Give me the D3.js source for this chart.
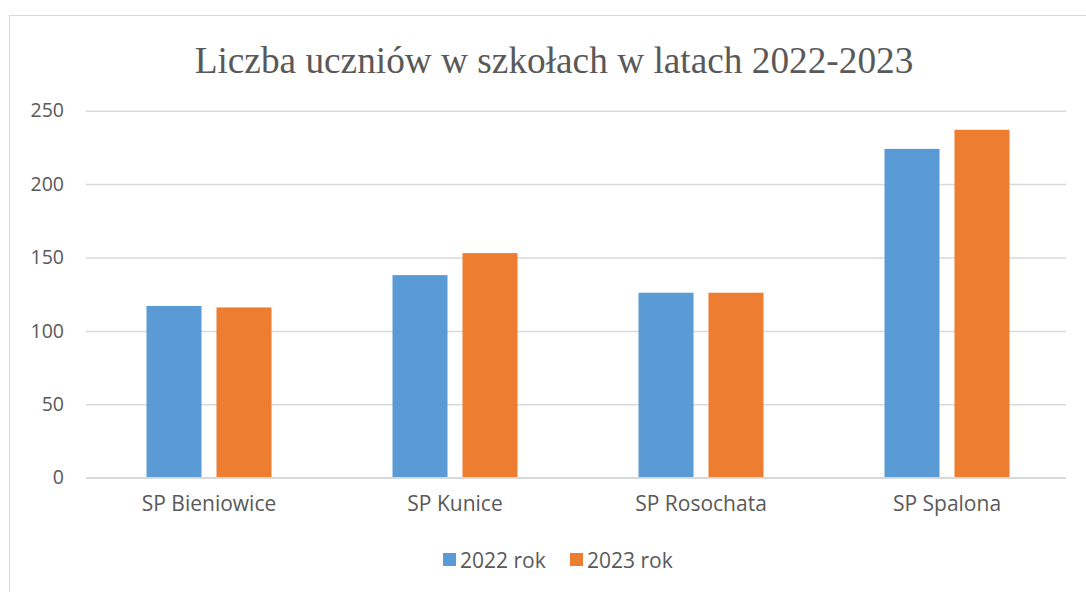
<!DOCTYPE html>
<html><head><meta charset="utf-8">
<script src="https://cdn.jsdelivr.net/npm/d3@7"></script>
<style>body{margin:0;background:#fff}svg{display:block}</style>
</head><body>
<script>
const categories = ["SP Bieniowice", "SP Kunice", "SP Rosochata", "SP Spalona"];
const seriesNames = ["2022 rok", "2023 rok"];
const values2022 = [117, 138, 126, 224];
const values2023 = [116, 153, 126, 237];
const yTicks = [0, 50, 100, 150, 200, 250];
const colors = ["#5b9bd5", "#ed7d31"];
const title = "Liczba uczniów w szkołach w latach 2022-2023";

(function () {
const W = 1086, H = 592;
const FONT = "Open Sans, Liberation Sans, sans-serif";
const svg = d3.select("body").append("svg").attr("width", W).attr("height", H);

svg.append("rect").attr("x", 9.5).attr("y", 15.5).attr("width", W + 10).attr("height", H + 10)
  .attr("fill", "#fff").attr("stroke", "#d9d9d9").attr("stroke-width", 1);

svg.append("text").attr("x", 554).attr("y", 73).attr("text-anchor", "middle")
  .attr("font-family", "Liberation Serif, Times New Roman, serif").attr("font-size", 37.3)
  .attr("fill", "#595959").text(title);

const pl = 86, pr = 1070, gridR = 1066, pt = 110.7, pb = 477.7;
const y = d3.scaleLinear().domain([0, 250]).range([pb, pt]);
const x0 = d3.scaleBand().domain(categories).range([pl, pr]);
const groupW = 125;
const x1 = d3.scaleBand().domain(seriesNames)
  .range([x0.bandwidth() / 2 - groupW / 2, x0.bandwidth() / 2 + groupW / 2])
  .paddingInner(0.214).paddingOuter(0);

const yAxis = d3.axisLeft(y).tickValues(yTicks).tickSize(-(gridR - pl)).tickPadding(22);
const ga = svg.append("g").attr("transform", `translate(${pl},0)`).call(yAxis);
ga.select(".domain").remove();
ga.selectAll(".tick line").attr("stroke", "#d9d9d9").attr("stroke-width", 1.5);
ga.selectAll(".tick text").attr("font-family", FONT)
  .attr("font-size", 19.5).attr("fill", "#595959");

const data = categories.map((c, i) => ({ cat: c, vals: [values2022[i], values2023[i]] }));
const groups = svg.append("g").selectAll("g").data(data).join("g")
  .attr("transform", d => `translate(${x0(d.cat)},0)`);
groups.selectAll("rect").data(d => d.vals.map((v, j) => ({ s: seriesNames[j], v, j })))
  .join("rect")
  .attr("x", d => x1(d.s)).attr("width", x1.bandwidth())
  .attr("y", d => y(d.v)).attr("height", d => y(0) - y(d.v))
  .attr("fill", d => colors[d.j]);

svg.append("line").attr("x1", pl).attr("x2", gridR).attr("y1", y(0)).attr("y2", y(0))
  .attr("stroke", "#d9d9d9").attr("stroke-width", 1.5);

const xAxis = d3.axisBottom(x0).tickSize(0).tickPadding(18);
const gx = svg.append("g").attr("transform", `translate(0,${pb})`).call(xAxis);
gx.select(".domain").remove();
gx.selectAll(".tick text").attr("font-family", FONT)
  .attr("font-size", 21).attr("fill", "#595959");

const legend = svg.append("g");
const legX = [443, 570];
seriesNames.forEach((s, i) => {
  legend.append("rect").attr("x", legX[i]).attr("y", 553).attr("width", 13).attr("height", 13).attr("fill", colors[i]);
  legend.append("text").attr("x", legX[i] + 17).attr("y", 568)
    .attr("font-family", FONT).attr("font-size", 21)
    .attr("fill", "#595959").text(s);
});
})();
</script>
</body></html>
